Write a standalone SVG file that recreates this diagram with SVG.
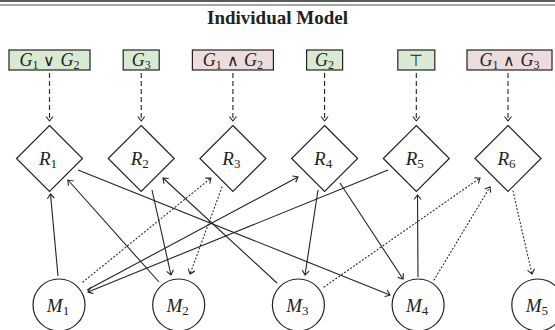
<svg xmlns="http://www.w3.org/2000/svg" width="555" height="330" viewBox="0 0 555 330">
<defs>
<style>
.box{stroke:#222;stroke-width:1.2}
.g{fill:#d9ead3}
.p{fill:#ecdcdc}
.shape{fill:#fff;stroke:#222;stroke-width:1.2}
.t{font-family:"Liberation Serif",serif;font-style:italic;fill:#222;text-anchor:middle}
.s{font-style:normal}
.op{font-style:normal;font-family:"DejaVu Sans",sans-serif;font-size:16px;font-weight:300}
.e{fill:none;stroke:#222;stroke-width:1.1}
.dash{stroke-dasharray:5 3}
.dot{stroke-dasharray:1 2.6;stroke-linecap:round}
</style>
<marker id="ah" markerWidth="10" markerHeight="10" refX="0" refY="0" viewBox="-6 -5 8 10" orient="auto" markerUnits="userSpaceOnUse">
<path d="M-4.5,-3.5 Q-1.2,-1 0,0 Q-1.2,1 -4.5,3.5" fill="none" stroke="#222" stroke-width="1.1"/>
</marker>
</defs>
<rect width="555" height="330" fill="#fff"/>
<line x1="0" y1="1" x2="555" y2="1" stroke="#222" stroke-width="1.6"/>
<line x1="0" y1="5" x2="555" y2="5" stroke="#222" stroke-width="0.8"/>
<text x="277.5" y="24" font-family="Liberation Serif,serif" font-weight="bold" font-size="19" text-anchor="middle" fill="#222">Individual Model</text>

<g id="connectors">
<line class="e dash" x1="49.5" y1="73" x2="49.5" y2="121" marker-end="url(#ah)"/>
<line class="e dash" x1="141.2" y1="73" x2="141.2" y2="121" marker-end="url(#ah)"/>
<line class="e dash" x1="232.9" y1="73" x2="232.9" y2="121" marker-end="url(#ah)"/>
<line class="e dash" x1="324.6" y1="73" x2="324.6" y2="121" marker-end="url(#ah)"/>
<line class="e dash" x1="416.3" y1="73" x2="416.3" y2="121" marker-end="url(#ah)"/>
<line class="e dash" x1="508" y1="73" x2="508" y2="121" marker-end="url(#ah)"/>

<line class="e" x1="58" y1="276" x2="50.5" y2="194" marker-end="url(#ah)"/>
<line class="e" x1="159" y1="282" x2="68" y2="180" marker-end="url(#ah)"/>
<line class="e" x1="78" y1="170" x2="390" y2="295" marker-end="url(#ah)"/>
<line class="e" x1="152" y1="190" x2="171" y2="275" marker-end="url(#ah)"/>
<line class="e" x1="277" y1="283" x2="163" y2="178" marker-end="url(#ah)"/>
<line class="e" x1="87" y1="290" x2="298" y2="177" marker-end="url(#ah)"/>
<line class="e" x1="388" y1="170" x2="88" y2="292" marker-end="url(#ah)"/>
<line class="e dot" x1="83" y1="282" x2="211" y2="178" marker-end="url(#ah)"/>
<line class="e dot" x1="222" y1="187" x2="190" y2="274" marker-end="url(#ah)"/>
<line class="e" x1="318" y1="190" x2="305" y2="275" marker-end="url(#ah)"/>
<line class="e" x1="340" y1="183" x2="403" y2="279" marker-end="url(#ah)"/>
<line class="e" x1="418" y1="277" x2="417.5" y2="195" marker-end="url(#ah)"/>
<line class="e dot" x1="324" y1="287" x2="480" y2="178" marker-end="url(#ah)"/>
<line class="e dot" x1="434" y1="280" x2="490" y2="187" marker-end="url(#ah)"/>
<line class="e dot" x1="513" y1="191" x2="532" y2="274" marker-end="url(#ah)"/>
</g>

<g id="G1orG2"><rect class="box g" x="9" y="50" width="81" height="20"/><text class="t" x="49.5" y="66" font-size="18">G<tspan class="s" font-size="12" dy="3">1</tspan><tspan class="op" dy="-3"> ∨ </tspan>G<tspan class="s" font-size="12" dy="3">2</tspan></text></g>
<g id="G3"><rect class="box g" x="123.2" y="50" width="36" height="20"/><text class="t" x="141.2" y="66" font-size="18">G<tspan class="s" font-size="12" dy="3">3</tspan></text></g>
<g id="G1andG2"><rect class="box p" x="192.4" y="50" width="81" height="20"/><text class="t" x="232.9" y="66" font-size="18">G<tspan class="s" font-size="12" dy="3">1</tspan><tspan class="op" dy="-3"> ∧ </tspan>G<tspan class="s" font-size="12" dy="3">2</tspan></text></g>
<g id="G2"><rect class="box g" x="306.6" y="50" width="36" height="20"/><text class="t" x="324.6" y="66" font-size="18">G<tspan class="s" font-size="12" dy="3">2</tspan></text></g>
<g id="Top"><rect class="box g" x="397.8" y="50" width="37" height="20"/><text class="t s" x="416.3" y="66" font-size="16" font-family="DejaVu Sans,sans-serif" font-weight="300">⊤</text></g>
<g id="G1andG3"><rect class="box p" x="467" y="50" width="85" height="20"/><text class="t" x="509.5" y="66" font-size="18">G<tspan class="s" font-size="12" dy="3">1</tspan><tspan class="op" dy="-3"> ∧ </tspan>G<tspan class="s" font-size="12" dy="3">3</tspan></text></g>

<g id="R1"><path class="shape" d="M49.5,125.5 L82.5,158.5 L49.5,191.5 L16.5,158.5 Z"/><text class="t" x="48" y="165" font-size="19">R<tspan class="s" font-size="13" dy="3">1</tspan></text></g>
<g id="R2"><path class="shape" d="M141.2,125.5 L174.2,158.5 L141.2,191.5 L108.2,158.5 Z"/><text class="t" x="139.7" y="165" font-size="19">R<tspan class="s" font-size="13" dy="3">2</tspan></text></g>
<g id="R3"><path class="shape" d="M232.9,125.5 L265.9,158.5 L232.9,191.5 L199.9,158.5 Z"/><text class="t" x="231.4" y="165" font-size="19">R<tspan class="s" font-size="13" dy="3">3</tspan></text></g>
<g id="R4"><path class="shape" d="M324.6,125.5 L357.6,158.5 L324.6,191.5 L291.6,158.5 Z"/><text class="t" x="323.1" y="165" font-size="19">R<tspan class="s" font-size="13" dy="3">4</tspan></text></g>
<g id="R5"><path class="shape" d="M416.3,125.5 L449.3,158.5 L416.3,191.5 L383.3,158.5 Z"/><text class="t" x="414.8" y="165" font-size="19">R<tspan class="s" font-size="13" dy="3">5</tspan></text></g>
<g id="R6"><path class="shape" d="M508,125.5 L541,158.5 L508,191.5 L475,158.5 Z"/><text class="t" x="506.5" y="165" font-size="19">R<tspan class="s" font-size="13" dy="3">6</tspan></text></g>

<g id="M1"><circle class="shape" cx="59" cy="305" r="26"/><text class="t" x="58" y="311.5" font-size="19">M<tspan class="s" font-size="13" dy="3">1</tspan></text></g>
<g id="M2"><circle class="shape" cx="178.7" cy="305" r="26"/><text class="t" x="177.7" y="311.5" font-size="19">M<tspan class="s" font-size="13" dy="3">2</tspan></text></g>
<g id="M3"><circle class="shape" cx="298.4" cy="305" r="26"/><text class="t" x="297.4" y="311.5" font-size="19">M<tspan class="s" font-size="13" dy="3">3</tspan></text></g>
<g id="M4"><circle class="shape" cx="418.1" cy="305" r="26"/><text class="t" x="417.1" y="311.5" font-size="19">M<tspan class="s" font-size="13" dy="3">4</tspan></text></g>
<g id="M5"><circle class="shape" cx="537.8" cy="305" r="26"/><text class="t" x="536.8" y="311.5" font-size="19">M<tspan class="s" font-size="13" dy="3">5</tspan></text></g>
</svg>
